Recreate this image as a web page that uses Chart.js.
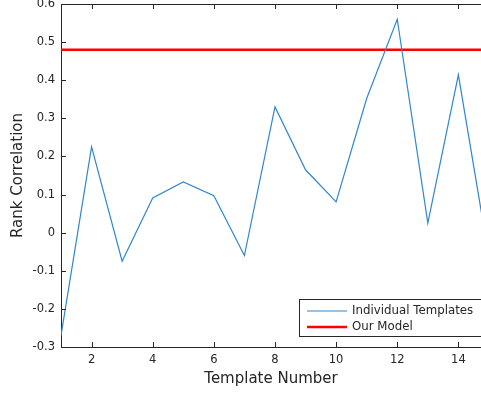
<!DOCTYPE html>
<html>
<head>
<meta charset="utf-8">
<script src="https://cdn.jsdelivr.net/npm/chart.js@4"></script>
<style>
  html, body { margin: 0; padding: 0; background: #fff; }
  #wrap { width: 481px; height: 394px; }
</style>
</head>
<body>
<div id="wrap"><canvas id="chart"></canvas></div>
<script>
// ==================data=================
const templateNumbers = [1, 2, 3, 4, 5, 6, 7, 8, 9, 10, 11, 12, 13, 14, 15];
const rankCorrelation = [-0.27, 0.225, -0.075, 0.091, 0.133, 0.097, -0.06, 0.33, 0.165, 0.081, 0.352, 0.56, 0.025, 0.414, -0.065];
const modelCorrelation = 0.48;
const xTicks = [2, 4, 6, 8, 10, 12, 14];
const yTicks = [-0.3, -0.2, -0.1, 0, 0.1, 0.2, 0.3, 0.4, 0.5, 0.6];

const axisColor = "#262626";
const fontFamily = "'DejaVu Sans', sans-serif";

// MATLAB style: ticks point into the box, top edge drawn too, legend inside
const matlabBox = {
  id: "matlabBox",
  afterDraw(chart) {
    const ctx = chart.ctx;
    const area = chart.chartArea;
    const xs = chart.scales.x;
    const ys = chart.scales.y;
    ctx.save();
    ctx.strokeStyle = axisColor;
    ctx.lineWidth = 1;
    ctx.beginPath();
    ctx.moveTo(area.left, area.top + 0.5);
    ctx.lineTo(area.right, area.top + 0.5);
    xTicks.forEach(function (v) {
      const px = Math.round(xs.getPixelForValue(v)) + 0.5;
      ctx.moveTo(px, area.bottom);
      ctx.lineTo(px, area.bottom - 5);
      ctx.moveTo(px, area.top);
      ctx.lineTo(px, area.top + 5);
    });
    yTicks.forEach(function (v) {
      const py = Math.round(ys.getPixelForValue(v)) + 0.5;
      ctx.moveTo(area.left, py);
      ctx.lineTo(area.left + 5, py);
    });
    ctx.stroke();

    // legend
    const bx = 299.5, by = 299.5, bw = 200, bh = 37;
    ctx.fillStyle = "#fff";
    ctx.fillRect(bx, by, bw, bh);
    ctx.strokeStyle = axisColor;
    ctx.lineWidth = 1;
    ctx.strokeRect(bx, by, bw, bh);
    ctx.font = "11.8px " + fontFamily;
    ctx.textBaseline = "middle";
    ctx.textAlign = "left";
    chart.data.datasets.forEach(function (ds, i) {
      const ly = 311 + i * 16;
      ctx.strokeStyle = ds.borderColor;
      ctx.lineWidth = ds.borderWidth;
      ctx.beginPath();
      ctx.moveTo(307, ly);
      ctx.lineTo(347, ly);
      ctx.stroke();
      ctx.fillStyle = axisColor;
      ctx.fillText(ds.label, 352, ly);
    });
    ctx.restore();
  },
};

new Chart(document.getElementById("chart"), {
  type: "line",
  data: {
    datasets: [
      {
        label: "Individual Templates",
        data: templateNumbers.map((t, i) => ({ x: t, y: rankCorrelation[i] })),
        borderColor: "#2f88cc",
        borderWidth: 1.2,
        pointRadius: 0,
        tension: 0,
      },
      {
        label: "Our Model",
        data: [
          { x: templateNumbers[0], y: modelCorrelation },
          { x: templateNumbers[templateNumbers.length - 1], y: modelCorrelation },
        ],
        borderColor: "#FF0000",
        borderWidth: 2.6,
        pointRadius: 0,
      },
    ],
  },
  options: {
    responsive: true,
    maintainAspectRatio: false,
    animation: false,
    layout: { padding: { left: 0, right: 0, top: 4, bottom: 0 } },
    plugins: {
      legend: { display: false },
      tooltip: { enabled: false },
    },
    scales: {
      x: {
        type: "linear",
        min: 1,
        max: 14.74,
        afterBuildTicks: (s) => { s.ticks = xTicks.map((v) => ({ value: v })); },
        afterFit: (s) => { s.height = 47; s.paddingLeft = 0; s.paddingRight = 0; },
        grid: { display: false, drawTicks: false },
        border: { display: true, color: axisColor, width: 1 },
        ticks: {
          padding: 6,
          color: axisColor,
          font: { family: fontFamily, size: 11.5 },
        },
        title: {
          display: true,
          text: "Template Number",
          color: axisColor,
          font: { family: fontFamily, size: 15 },
          padding: { top: 0, bottom: 5.5 },
        },
      },
      y: {
        min: -0.3,
        max: 0.6,
        afterBuildTicks: (s) => { s.ticks = yTicks.map((v) => ({ value: v })); },
        afterFit: (s) => { s.width = 61; s.paddingTop = 0; s.paddingBottom = 0; },
        grid: { display: false, drawTicks: false },
        border: { display: true, color: axisColor, width: 1 },
        ticks: {
          padding: 6,
          color: axisColor,
          font: { family: fontFamily, size: 11.5 },
          callback: (v) => String(Math.round(v * 10) / 10),
        },
        title: {
          display: true,
          text: "Rank Correlation",
          color: axisColor,
          font: { family: fontFamily, size: 15 },
          padding: { top: 9, bottom: 0 },
        },
      },
    },
  },
  plugins: [matlabBox],
});
</script>
</body>
</html>
